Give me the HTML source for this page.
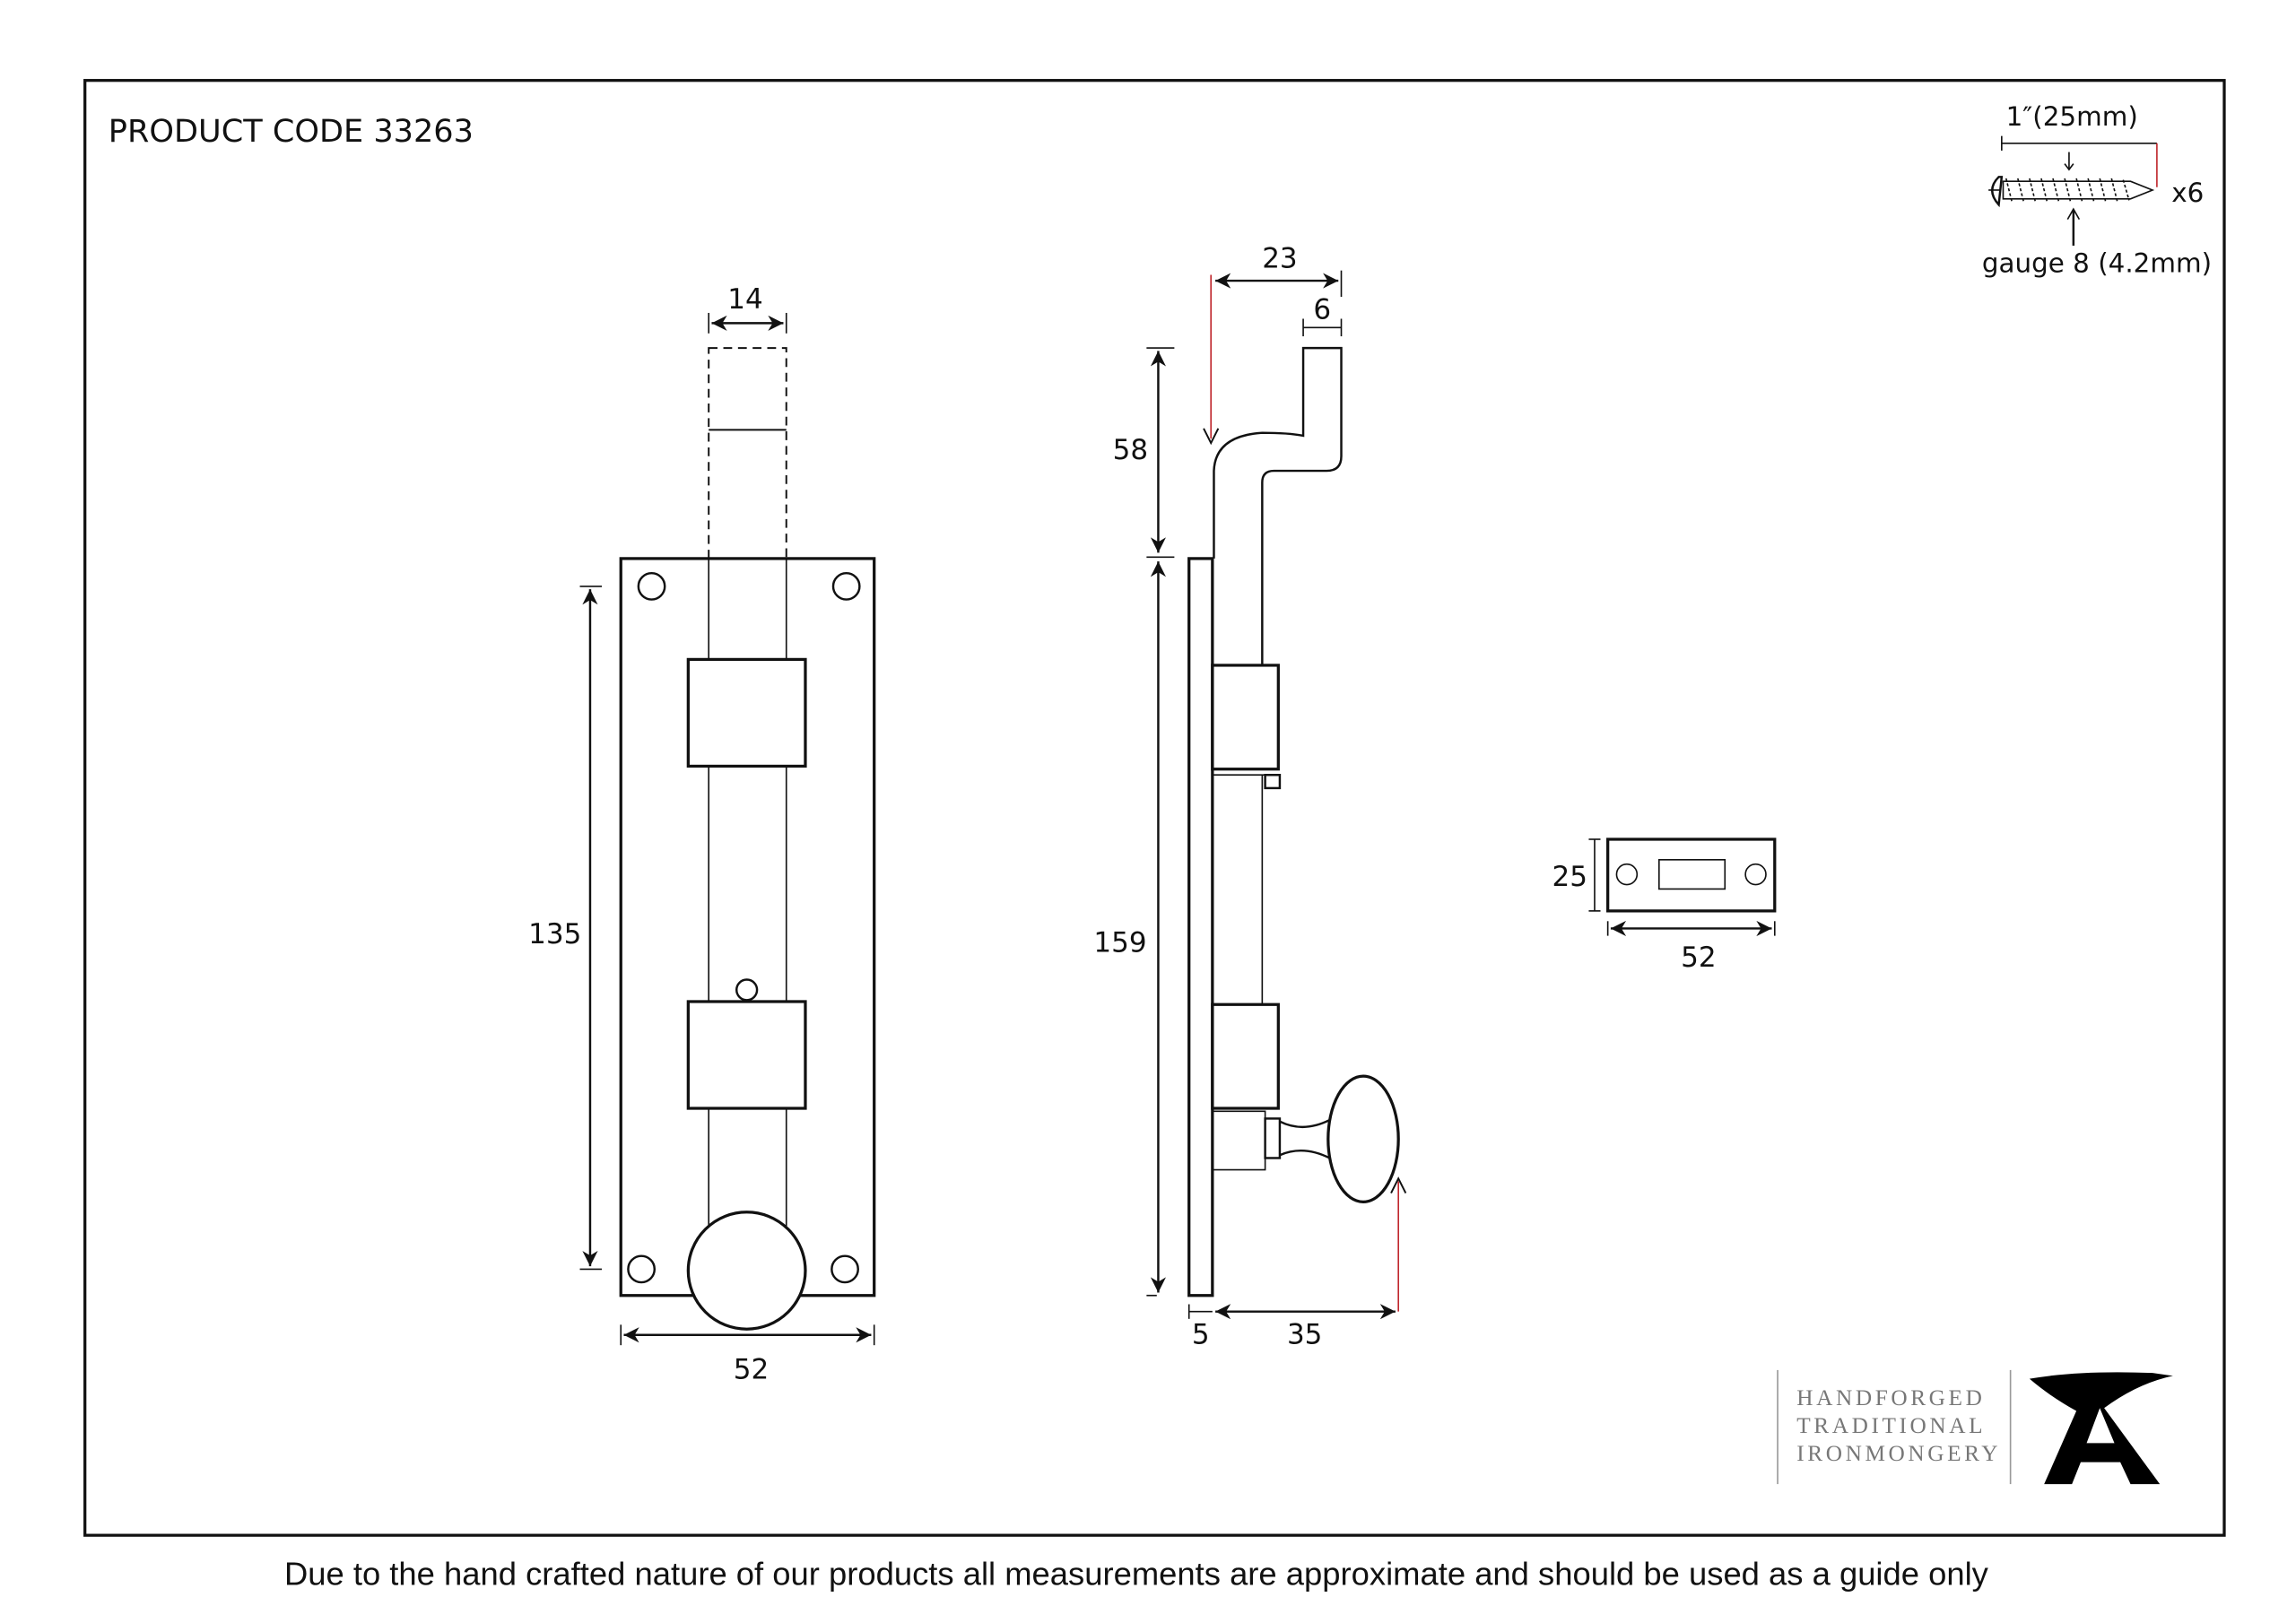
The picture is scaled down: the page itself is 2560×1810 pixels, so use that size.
<!DOCTYPE html>
<html><head><meta charset="utf-8"><style>
html,body{margin:0;padding:0;background:#fff;}
svg{display:block;}
text{font-family:"DejaVu Sans","Liberation Sans",sans-serif;fill:#111;}
</style></head><body>
<svg width="2560" height="1810" viewBox="0 0 1568 1110" preserveAspectRatio="none" xmlns="http://www.w3.org/2000/svg">
<defs>
<marker id="a" viewBox="0 0 10 10" refX="10" refY="5" markerWidth="7" markerHeight="7" orient="auto-start-reverse"><path d="M0,0 L10,5 L0,10 L3,5 z" fill="#111"/></marker>
</defs>
<rect x="0" y="0" width="1568" height="1110" fill="#fff"/>
<rect x="58" y="55" width="1461" height="995" fill="none" stroke="#111" stroke-width="2"/>
<text x="74" y="97" font-size="21.5" style="font-family:'DejaVu Sans',sans-serif">PRODUCT CODE 33263</text>
<text x="776" y="1084" font-size="22.3" text-anchor="middle" style="font-family:'Liberation Sans',sans-serif">Due to the hand crafted nature of our products all measurements are approximate and should be used as a guide only</text>

<!-- front view -->
<g fill="none" stroke="#111">
<rect x="484" y="238" width="53" height="144" stroke-dasharray="6,4" stroke-width="1.2"/>
<line x1="484" y1="294" x2="537" y2="294" stroke-width="1.2"/>
<rect x="424" y="382" width="173" height="504" stroke-width="2"/>
<line x1="484" y1="382" x2="484" y2="840" stroke-width="1"/>
<line x1="537" y1="382" x2="537" y2="840" stroke-width="1"/>
<circle cx="445" cy="401" r="9" stroke-width="1.5"/>
<circle cx="578" cy="401" r="9" stroke-width="1.5"/>
<circle cx="438" cy="868" r="9" stroke-width="1.5"/>
<circle cx="577" cy="868" r="9" stroke-width="1.5"/>
<rect x="470" y="451" width="80" height="73" fill="#fff" stroke-width="2"/>
<rect x="470" y="685" width="80" height="73" fill="#fff" stroke-width="2"/>
<circle cx="510" cy="677" r="7" stroke-width="1.5"/>
<circle cx="510" cy="869" r="40" fill="#fff" stroke-width="2"/>
<line x1="486" y1="221" x2="535" y2="221" stroke-width="1.5" marker-start="url(#a)" marker-end="url(#a)"/>
<line x1="484" y1="214" x2="484" y2="228"/><line x1="537" y1="214" x2="537" y2="228"/>
<line x1="403" y1="403" x2="403" y2="866" stroke-width="1.5" marker-start="url(#a)" marker-end="url(#a)"/>
<line x1="396" y1="401" x2="411" y2="401"/><line x1="396" y1="868" x2="411" y2="868"/>
<line x1="426" y1="913" x2="595" y2="913" stroke-width="1.5" marker-start="url(#a)" marker-end="url(#a)"/>
<line x1="424" y1="906" x2="424" y2="920"/><line x1="597" y1="906" x2="597" y2="920"/>
</g>
<text x="509" y="211" font-size="19" text-anchor="middle">14</text>
<text x="379" y="645" font-size="19" text-anchor="middle">135</text>
<text x="513" y="943" font-size="19" text-anchor="middle">52</text>

<!-- side view -->
<g fill="none" stroke="#111">
<rect x="812" y="382" width="16" height="504" stroke-width="2"/>
<path d="M829,382 L829,322 Q830,298 862,296 Q880,296 890,298 L890,238 L916,238 L916,312 Q916,322 906,322 L870,322 Q862,322 862,330 L862,455" stroke-width="1.5"/>
<rect x="828" y="455" width="45" height="71" stroke-width="2"/>
<line x1="828" y1="530" x2="864" y2="530" stroke-width="1"/>
<line x1="862" y1="530" x2="862" y2="687" stroke-width="1"/>
<rect x="864" y="530" width="10" height="9" stroke-width="1.5"/>
<rect x="828" y="687" width="45" height="71" stroke-width="2"/>
<path d="M828,760 L864,760 L864,800 L828,800" stroke-width="1"/>
<rect x="864" y="765" width="10" height="27" stroke-width="1.5"/>
<path d="M874,767 Q890,775 908,766 M874,790 Q890,783 908,792" stroke-width="1.5"/>
<ellipse cx="931" cy="779" rx="24" ry="43" fill="#fff" stroke-width="2"/>
<line x1="830" y1="192" x2="914" y2="192" stroke-width="1.5" marker-start="url(#a)" marker-end="url(#a)"/>
<line x1="916" y1="185" x2="916" y2="203"/>
<line x1="890" y1="224" x2="916" y2="224" stroke-width="1"/>
<line x1="890" y1="218" x2="890" y2="230"/><line x1="916" y1="218" x2="916" y2="230"/>
<line x1="827" y1="188" x2="827" y2="300" stroke="#c0282e" stroke-width="1"/>
<path d="M822,293 L827,303 L832,293" stroke-width="1.2"/>
<line x1="791" y1="240" x2="791" y2="378" stroke-width="1.5" marker-start="url(#a)" marker-end="url(#a)"/>
<line x1="791" y1="384" x2="791" y2="884" stroke-width="1.5" marker-start="url(#a)" marker-end="url(#a)"/>
<line x1="783" y1="238" x2="802" y2="238"/><line x1="783" y1="381" x2="802" y2="381"/>
<line x1="783" y1="886" x2="790" y2="886"/>
<line x1="812" y1="892" x2="812" y2="902"/>
<line x1="812" y1="897" x2="828" y2="897"/>
<line x1="830" y1="897" x2="953" y2="897" stroke-width="1.5" marker-start="url(#a)" marker-end="url(#a)"/>
<line x1="955" y1="808" x2="955" y2="897" stroke="#c0282e" stroke-width="1"/>
<path d="M950,816 L955,806 L960,816" stroke-width="1.2"/>
</g>
<text x="874" y="183" font-size="19" text-anchor="middle">23</text>
<text x="903" y="218" font-size="19" text-anchor="middle">6</text>
<text x="772" y="314" font-size="19" text-anchor="middle">58</text>
<text x="765" y="651" font-size="19" text-anchor="middle">159</text>
<text x="820" y="919" font-size="19" text-anchor="middle">5</text>
<text x="891" y="919" font-size="19" text-anchor="middle">35</text>

<!-- keep -->
<g fill="none" stroke="#111">
<rect x="1098" y="574" width="114" height="49" stroke-width="2"/>
<circle cx="1111" cy="598" r="7" stroke-width="1"/>
<circle cx="1199" cy="598" r="7" stroke-width="1"/>
<rect x="1133" y="588" width="45" height="20" stroke-width="1"/>
<line x1="1089" y1="574" x2="1089" y2="623" stroke-width="1"/>
<line x1="1085" y1="574" x2="1093" y2="574"/><line x1="1085" y1="623" x2="1093" y2="623"/>
<line x1="1100" y1="635" x2="1210" y2="635" stroke-width="1.5" marker-start="url(#a)" marker-end="url(#a)"/>
<line x1="1098" y1="630" x2="1098" y2="640"/><line x1="1212" y1="630" x2="1212" y2="640"/>
</g>
<text x="1072" y="606" font-size="19" text-anchor="middle">25</text>
<text x="1160" y="661" font-size="19" text-anchor="middle">52</text>

<!-- screw -->
<text x="1415" y="86" font-size="18" text-anchor="middle">1″(25mm)</text>
<g fill="none" stroke="#111">
<line x1="1367" y1="98" x2="1473" y2="98" stroke-width="1"/>
<line x1="1367" y1="93" x2="1367" y2="103"/>
<line x1="1473" y1="98" x2="1473" y2="128" stroke="#c0282e"/>
<line x1="1413" y1="104" x2="1413" y2="116"/><path d="M1410,112 L1413,116 L1416,112"/>
<path d="M1365,121 Q1356,130 1365,140 L1367,121 Z" stroke-width="1.5"/>
<line x1="1358" y1="130" x2="1366" y2="130"/>
<path d="M1368,124 L1455,124 L1470,130 L1455,136 L1368,136 Z" stroke-width="1"/>
<path d="M1370,122 l4,16 M1378,122 l4,16 M1386,122 l4,16 M1394,122 l4,16 M1402,122 l4,16 M1410,122 l4,16 M1418,122 l4,16 M1426,122 l4,16 M1434,122 l4,16 M1442,122 l4,16 M1450,123 l4,14" stroke-dasharray="2,1.5"/>
<line x1="1416" y1="168" x2="1416" y2="144" stroke-width="1.5"/><path d="M1412,150 L1416,143 L1420,150"/>
</g>
<text x="1483" y="138" font-size="18">x6</text>
<text x="1432" y="186" font-size="18" text-anchor="middle">gauge 8 (4.2mm)</text>

<!-- logo -->
<line x1="1214" y1="937" x2="1214" y2="1015" stroke="#999" stroke-width="1"/>
<line x1="1373" y1="937" x2="1373" y2="1015" stroke="#999" stroke-width="1"/>
<g font-size="15.5" style="letter-spacing:2.2px">
<text x="1227" y="961" style="fill:#777;font-family:'Liberation Serif',serif">HANDFORGED</text>
<text x="1227" y="980" style="fill:#777;font-family:'Liberation Serif',serif">TRADITIONAL</text>
<text x="1227" y="999" style="fill:#777;font-family:'Liberation Serif',serif">IRONMONGERY</text>
</g>
<path d="M1386,943 Q1420,937 1470,939 L1484,941 Q1460,946 1437,963 L1475,1015 L1455,1015 L1448,1000 L1421,1000 L1415,1015 L1396,1015 L1418,965 Q1400,955 1386,943 Z M1425,987 L1444,987 L1434,963 Z" fill="#000"/>
</svg>
</body></html>
